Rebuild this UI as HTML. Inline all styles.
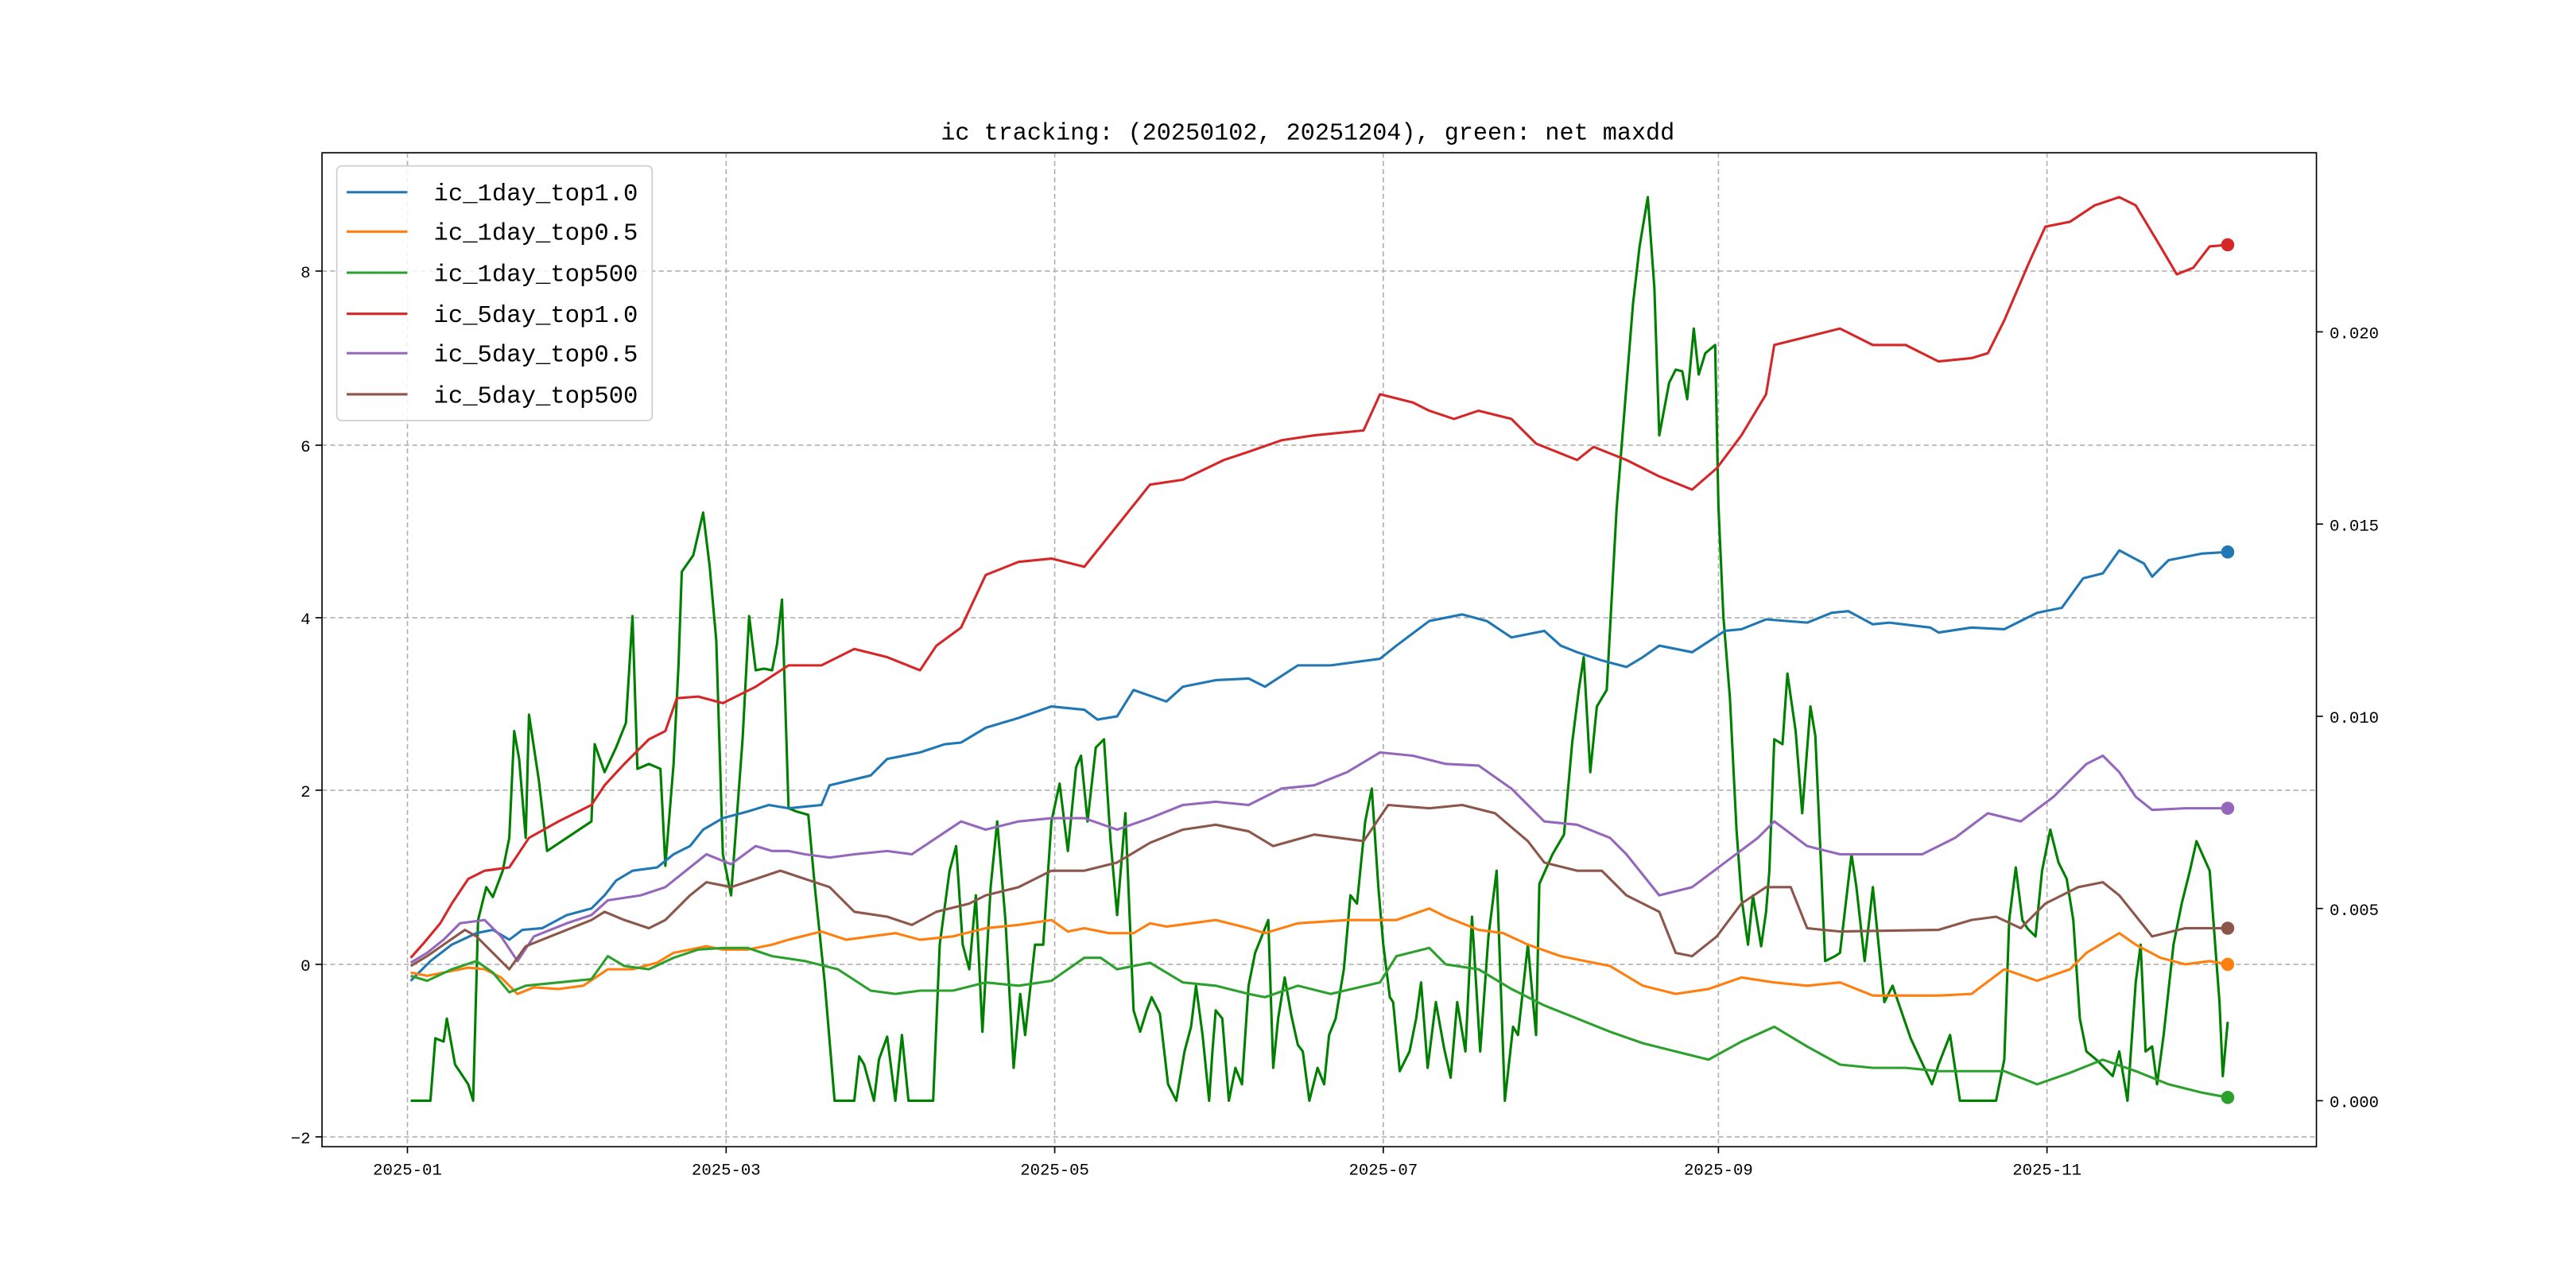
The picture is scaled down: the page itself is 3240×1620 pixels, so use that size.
<!DOCTYPE html>
<html><head><meta charset="utf-8"><style>
html,body{margin:0;padding:0;background:#fff;}
svg{display:block;}
text{font-family:"Liberation Mono","DejaVu Sans Mono",monospace;fill:#000;}
</style></head><body>
<svg width="3240" height="1620" viewBox="0 0 1568 784" xmlns="http://www.w3.org/2000/svg">
<rect width="1568" height="784" fill="#fff"/>
<text x="796" y="85" font-size="14.6" text-anchor="middle">ic tracking: (20250102, 20251204), green: net maxdd</text>
<g stroke="#b0b0b0" stroke-width="0.8" stroke-dasharray="3,2" fill="none">
<line x1="196" x2="1410" y1="692" y2="692"/><line x1="196" x2="1410" y1="587" y2="587"/>
<line x1="196" x2="1410" y1="481" y2="481"/><line x1="196" x2="1410" y1="376" y2="376"/>
<line x1="196" x2="1410" y1="271" y2="271"/><line x1="196" x2="1410" y1="165" y2="165"/>
<line y1="93" y2="698" x1="248" x2="248"/><line y1="93" y2="698" x1="442" x2="442"/>
<line y1="93" y2="698" x1="642" x2="642"/><line y1="93" y2="698" x1="842" x2="842"/>
<line y1="93" y2="698" x1="1046" x2="1046"/><line y1="93" y2="698" x1="1246" x2="1246"/>
</g>
<g fill="none" stroke-width="1.5" stroke-linejoin="round">
<polyline stroke="#008000" points="250,670 262,670 265,632 270,634 272,620 277,648 285,660 288,670 291,560 296,540 300,546 306,530 310,510 313,445 316,462 320,510 322,435 328,475 333,518 345,510 360,500 362,453 368,470 375,455 381,440 385,375 388,468 395,465 402,468 405,527 410,465 413,405 415,348 422,338 428,312 432,345 436,390 440,520 445,545 452,450 456,375 460,408 465,407 470,408 473,392 476,365 480,492 485,494 492,496 496,540 502,598 508,670 520,670 523,643 526,648 532,670 535,645 540,631 545,670 549,630 553,670 568,670 572,575 578,530 582,515 586,575 590,590 594,545 598,628 603,540 607,500 612,560 617,650 621,605 624,630 630,575 635,575 640,500 645,477 650,518 655,467 658,460 662,500 667,455 672,450 676,512 680,557 685,495 690,615 694,628 698,615 701,607 706,617 711,660 716,670 721,640 725,625 728,600 732,630 736,670 738,640 740,615 744,620 748,670 752,650 756,660 760,600 764,580 768,570 772,560 775,650 778,620 782,595 786,618 790,636 793,640 797,670 802,650 806,660 809,630 813,620 818,590 822,545 826,550 831,500 835,480 839,540 842,575 846,607 848,610 852,652 858,640 862,620 865,598 869,650 874,610 879,638 883,656 887,610 892,640 896,558 901,640 906,570 911,530 916,670 921,625 924,630 930,575 935,630 937,538 945,520 952,508 957,452 961,420 964,400 968,470 972,430 978,420 984,310 988,260 994,185 998,150 1003,120 1007,175 1010,265 1016,233 1020,225 1024,226 1027,243 1031,200 1034,228 1038,215 1044,210 1046,308 1049,375 1053,425 1057,505 1060,546 1064,575 1067,545 1072,576 1075,555 1077,530 1080,450 1085,453 1088,410 1093,445 1097,495 1102,430 1105,448 1111,585 1117,582 1120,580 1127,520 1130,540 1135,585 1140,540 1147,610 1152,600 1163,632 1176,660 1180,648 1187,630 1193,670 1215,670 1220,645 1223,560 1227,528 1231,560 1234,565 1239,570 1243,530 1248,505 1253,525 1258,535 1262,560 1266,620 1270,640 1276,645 1281,650 1286,655 1290,640 1295,670 1300,598 1303,575 1306,640 1310,637 1313,660 1317,630 1323,575 1328,550 1333,530 1337,512 1345,530 1351,610 1353,655 1356,622"/>
<polyline stroke="#1f77b4" points="250,597 262,585 275,575 290,568 300,566 310,572 318,566 330,565 345,557 360,553 368,545 375,536 385,530 400,528 410,520 420,515 428,505 440,498 455,494 468,490 480,492 500,490 505,478 530,472 540,462 560,458 575,453 585,452 600,443 620,437 640,430 660,432 668,438 680,436 690,420 710,427 720,418 740,414 760,413 770,418 790,405 810,405 840,401 850,393 870,378 890,374 905,378 920,388 940,384 950,393 960,397 975,402 990,406 1000,400 1010,393 1030,397 1050,384 1060,383 1075,377 1100,379 1115,373 1125,372 1140,380 1150,379 1175,382 1180,385 1200,382 1220,383 1230,378 1240,373 1255,370 1268,352 1280,349 1290,335 1305,343 1310,351 1320,341 1340,337 1356,336"/>
<polyline stroke="#ff7f0e" points="250,592 260,594 270,592 285,589 295,590 305,595 315,605 325,601 340,602 355,600 370,590 385,590 400,586 410,580 430,576 440,578 455,578 470,575 480,572 500,567 515,572 530,570 545,568 560,572 580,570 600,565 620,563 640,560 650,567 660,565 675,568 690,568 700,562 710,564 740,560 760,565 770,568 790,562 820,560 850,560 870,553 880,558 900,566 915,568 930,575 950,582 980,588 1000,600 1020,605 1040,602 1060,595 1080,598 1100,600 1120,598 1140,606 1160,606 1180,606 1200,605 1220,590 1240,597 1260,590 1270,580 1290,568 1300,575 1315,583 1330,587 1345,585 1356,587"/>
<polyline stroke="#2ca02c" points="250,594 260,597 275,590 290,585 300,592 310,604 320,600 340,598 360,596 370,582 380,588 395,590 410,583 425,578 440,577 455,577 470,582 490,585 510,590 530,603 545,605 560,603 580,603 600,598 620,600 640,597 650,590 660,583 670,583 680,590 700,586 720,598 740,600 760,605 770,607 790,600 810,605 840,598 850,582 870,577 880,587 900,590 920,602 940,612 960,620 980,628 1000,635 1020,640 1040,645 1060,634 1080,625 1100,637 1120,648 1140,650 1160,650 1180,652 1220,652 1240,660 1260,653 1280,645 1300,652 1320,660 1340,665 1356,668"/>
<polyline stroke="#d62728" points="250,583 258,574 268,562 275,550 285,535 295,530 310,528 322,510 340,500 360,490 368,478 380,465 395,450 405,445 412,425 425,424 440,428 460,418 480,405 500,405 520,395 540,400 560,408 570,393 585,382 600,350 620,342 640,340 660,345 680,320 700,295 720,292 745,280 760,275 780,268 800,265 830,262 840,240 860,245 870,250 885,255 900,250 920,255 935,270 960,280 970,272 990,280 1010,290 1030,298 1045,285 1060,265 1075,240 1080,210 1100,205 1120,200 1140,210 1160,210 1180,220 1200,218 1210,215 1220,195 1235,160 1245,138 1260,135 1275,125 1290,120 1300,125 1315,150 1325,167 1335,163 1345,150 1356,149"/>
<polyline stroke="#9467bd" points="250,586 260,580 270,572 280,562 295,560 305,570 315,585 325,570 345,562 360,557 370,548 390,545 405,540 420,528 430,520 445,526 460,515 470,518 480,518 490,520 505,522 520,520 540,518 555,520 570,510 585,500 600,505 620,500 640,498 660,498 680,505 700,498 720,490 740,488 760,490 780,480 800,478 820,470 840,458 860,460 880,465 900,466 920,480 940,500 960,502 980,510 990,520 1010,545 1030,540 1050,525 1070,510 1080,500 1100,515 1120,520 1170,520 1190,510 1210,495 1230,500 1250,485 1270,465 1280,460 1290,470 1300,485 1310,493 1330,492 1356,492"/>
<polyline stroke="#8c564b" points="250,588 260,582 270,575 283,566 290,570 300,580 310,590 320,576 340,568 360,560 368,555 380,560 395,565 405,560 420,545 430,537 445,540 460,535 475,530 490,535 505,540 520,555 540,558 555,563 570,555 590,550 600,545 620,540 640,530 660,530 680,525 700,513 720,505 740,502 760,506 775,515 800,508 830,512 845,490 870,492 890,490 910,495 930,512 940,525 960,530 975,530 990,545 1010,555 1020,580 1030,582 1045,570 1060,550 1075,540 1090,540 1100,565 1120,567 1180,566 1200,560 1215,558 1230,565 1245,550 1265,540 1280,537 1290,545 1310,570 1330,565 1356,565"/>
</g>
<circle cx="1356" cy="336" r="4" fill="#1f77b4"/>
<circle cx="1356" cy="587" r="4" fill="#ff7f0e"/>
<circle cx="1356" cy="668" r="4" fill="#2ca02c"/>
<circle cx="1356" cy="149" r="4" fill="#d62728"/>
<circle cx="1356" cy="492" r="4" fill="#9467bd"/>
<circle cx="1356" cy="565" r="4" fill="#8c564b"/>
<rect x="196" y="93" width="1214" height="605" fill="none" stroke="#000" stroke-width="0.8"/>
<g stroke="#000" stroke-width="0.8">
<line x1="192" x2="196" y1="692" y2="692"/><line x1="192" x2="196" y1="587" y2="587"/>
<line x1="192" x2="196" y1="481" y2="481"/><line x1="192" x2="196" y1="376" y2="376"/>
<line x1="192" x2="196" y1="271" y2="271"/><line x1="192" x2="196" y1="165" y2="165"/>
<line x1="1410" x2="1414" y1="670" y2="670"/><line x1="1410" x2="1414" y1="553" y2="553"/>
<line x1="1410" x2="1414" y1="436" y2="436"/><line x1="1410" x2="1414" y1="319" y2="319"/>
<line x1="1410" x2="1414" y1="202" y2="202"/>
<line y1="698" y2="702" x1="248" x2="248"/><line y1="698" y2="702" x1="442" x2="442"/>
<line y1="698" y2="702" x1="642" x2="642"/><line y1="698" y2="702" x1="842" x2="842"/>
<line y1="698" y2="702" x1="1046" x2="1046"/><line y1="698" y2="702" x1="1246" x2="1246"/>
</g>
<g font-size="10" text-anchor="end">
<text x="189" y="696">−2</text><text x="189" y="591">0</text><text x="189" y="485">2</text>
<text x="189" y="380">4</text><text x="189" y="275">6</text><text x="189" y="169">8</text>
</g>
<g font-size="10">
<text x="1418" y="674">0.000</text><text x="1418" y="557">0.005</text><text x="1418" y="440">0.010</text>
<text x="1418" y="323">0.015</text><text x="1418" y="206">0.020</text>
</g>
<g font-size="10" text-anchor="middle">
<text x="248" y="715">2025-01</text><text x="442" y="715">2025-03</text><text x="642" y="715">2025-05</text>
<text x="842" y="715">2025-07</text><text x="1046" y="715">2025-09</text><text x="1246" y="715">2025-11</text>
</g>
<rect x="205" y="101" width="192" height="155" rx="3" fill="#fff" fill-opacity="0.85" stroke="#ccc" stroke-width="0.8"/>
<g stroke-width="1.5">
<line x1="211" x2="248" y1="117" y2="117" stroke="#1f77b4"/>
<line x1="211" x2="248" y1="141" y2="141" stroke="#ff7f0e"/>
<line x1="211" x2="248" y1="166" y2="166" stroke="#2ca02c"/>
<line x1="211" x2="248" y1="191" y2="191" stroke="#d62728"/>
<line x1="211" x2="248" y1="215" y2="215" stroke="#9467bd"/>
<line x1="211" x2="248" y1="240" y2="240" stroke="#8c564b"/>
</g>
<g font-size="14.8">
<text x="264" y="122">ic_1day_top1.0</text>
<text x="264" y="146">ic_1day_top0.5</text>
<text x="264" y="171">ic_1day_top500</text>
<text x="264" y="196">ic_5day_top1.0</text>
<text x="264" y="220">ic_5day_top0.5</text>
<text x="264" y="245">ic_5day_top500</text>
</g>
</svg>
</body></html>
